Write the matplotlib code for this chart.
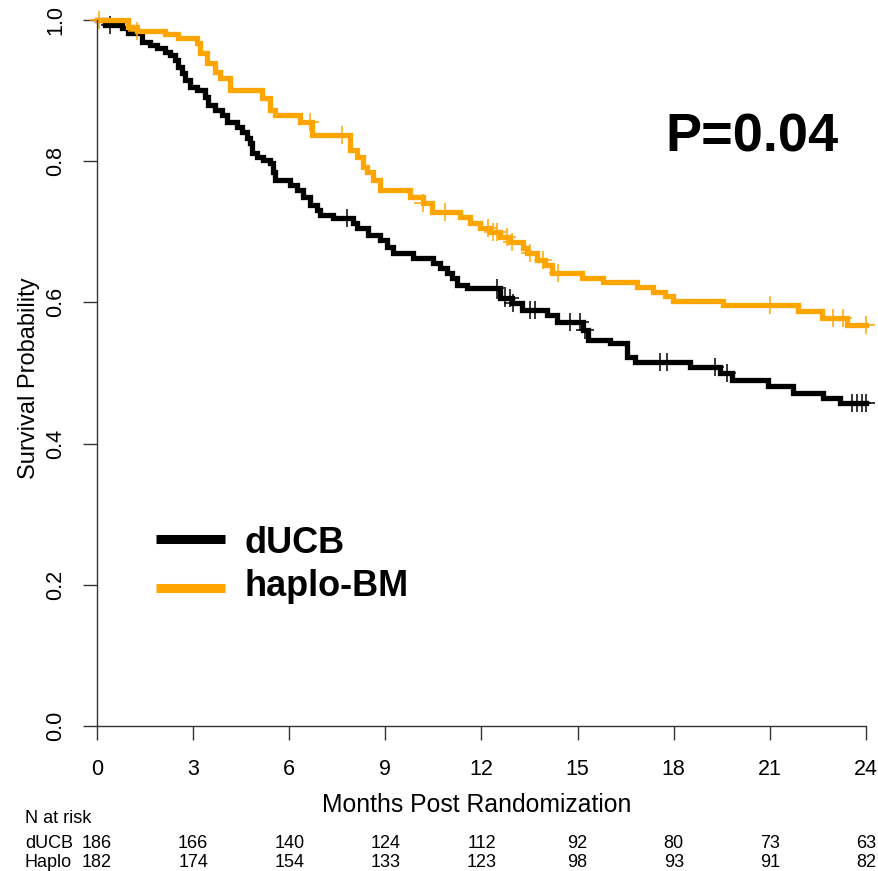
import numpy as np
import matplotlib
matplotlib.use("Agg")
import matplotlib.pyplot as plt

plt.rcParams["font.family"] = ["Liberation Sans", "DejaVu Sans"]

# ─── Data ───────────────────────────────────────────────────────────────────
ducb_t = [0, 0.25, 0.78, 0.97, 1.40, 1.65, 1.87, 2.12, 2.28, 2.43, 2.53, 2.65,
          2.75, 2.90, 3.12, 3.37, 3.46, 3.68, 3.90, 4.06, 4.37, 4.53, 4.68,
          4.78, 4.84, 4.99, 5.18, 5.40, 5.49, 5.56, 6.02, 6.24, 6.43, 6.65,
          6.87, 6.96, 7.37, 7.99, 8.11, 8.46, 8.83, 9.05, 9.24, 9.86, 10.49,
          10.71, 10.92, 11.08, 11.24, 11.55, 12.58, 12.95, 13.26, 14.04, 14.36,
          15.17, 15.32, 16.01, 16.54, 16.79, 18.51, 19.44, 19.82, 20.94, 21.72,
          22.66, 23.19]
ducb_s = [1.0, 0.993, 0.989, 0.982, 0.969, 0.965, 0.960, 0.955, 0.950, 0.943,
          0.933, 0.925, 0.915, 0.905, 0.901, 0.891, 0.880, 0.873, 0.865, 0.856,
          0.848, 0.841, 0.833, 0.826, 0.812, 0.806, 0.801, 0.797, 0.785, 0.773,
          0.766, 0.759, 0.749, 0.738, 0.731, 0.724, 0.720, 0.712, 0.705, 0.695,
          0.688, 0.678, 0.670, 0.663, 0.656, 0.649, 0.642, 0.635, 0.625, 0.620,
          0.606, 0.599, 0.589, 0.582, 0.572, 0.561, 0.547, 0.542, 0.523, 0.516,
          0.509, 0.500, 0.490, 0.481, 0.471, 0.465, 0.457]
ducb_cens = [0.41, 7.80, 12.48, 12.73, 12.89, 12.98, 13.51, 13.67, 14.76,
             15.07, 15.23, 17.57, 17.79, 19.29, 19.66, 23.56, 23.72, 23.88, 24.0]

haplo_t = [0, 0.97, 1.25, 2.12, 2.53, 3.12, 3.21, 3.43, 3.68, 3.84, 4.15, 5.15,
           5.40, 5.56, 6.34, 6.71, 7.90, 8.11, 8.30, 8.43, 8.61, 8.83, 9.77,
           10.17, 10.46, 11.33, 11.64, 11.95, 12.27, 12.58, 12.89, 13.30, 13.42,
           13.73, 13.98, 14.20, 15.14, 15.79, 16.85, 17.35, 17.73, 17.98, 19.54,
           21.88, 22.63, 23.41]
haplo_s = [1.0, 0.990, 0.984, 0.980, 0.975, 0.967, 0.953, 0.939, 0.926, 0.918,
           0.901, 0.890, 0.873, 0.865, 0.856, 0.837, 0.816, 0.806, 0.792, 0.785,
           0.773, 0.759, 0.749, 0.741, 0.728, 0.721, 0.712, 0.705, 0.700, 0.693,
           0.686, 0.677, 0.670, 0.660, 0.653, 0.642, 0.635, 0.629, 0.622, 0.615,
           0.609, 0.602, 0.596, 0.588, 0.578, 0.568]
haplo_cens = [0.05, 1.25, 6.65, 7.65, 10.17, 10.86, 12.2, 12.36, 12.48, 12.8,
              12.95, 13.51, 13.92, 14.39, 21.0, 22.97, 23.28, 24.0]

months = [0, 3, 6, 9, 12, 15, 18, 21, 24]
risk_ducb = [186, 166, 140, 124, 112, 92, 80, 73, 63]
risk_haplo = [182, 174, 154, 133, 123, 98, 93, 91, 82]

BLACK = "black"
ORANGE = "#FFA500"

W, H = 879, 871
fig = plt.figure(figsize=(W / 100, H / 100), dpi=100)
ax = fig.add_axes([97 / W, 1 - 726 / H, (866 - 97) / W, (726 - 20) / H])


def step_value(t_arr, s_arr, t):
    i = np.searchsorted(t_arr, t, side="right") - 1
    return np.asarray(s_arr)[i]


for t_arr, s_arr, cens, col in [(ducb_t, ducb_s, ducb_cens, BLACK),
                                (haplo_t, haplo_s, haplo_cens, ORANGE)]:
    tt = list(t_arr) + [24]
    ss = list(s_arr) + [s_arr[-1]]
    ax.step(tt, ss, where="post", color=col, lw=3.8, clip_on=False,
            solid_joinstyle="miter")
    cy = step_value(t_arr, s_arr, np.array(cens))
    ax.plot(cens, cy, ls="none", marker="+", ms=13, mew=1.1, color=col,
            clip_on=False)

ax.set_xlim(0, 24)
ax.set_ylim(0, 1)
for s in ["top", "right"]:
    ax.spines[s].set_visible(False)
for s in ["left", "bottom"]:
    ax.spines[s].set_color("#333333")
    ax.spines[s].set_linewidth(1.0)

ax.set_xticks(months)
ax.set_yticks([0, 0.2, 0.4, 0.6, 0.8, 1.0])
ax.set_yticklabels(["0.0", "0.2", "0.4", "0.6", "0.8", "1.0"], rotation=90,
                   va="center")
ax.tick_params(axis="both", length=10, width=1.0, color="#333333",
               labelsize=15.5)
ax.tick_params(axis="x", pad=14)
ax.tick_params(axis="y", pad=12)

fig.text(322 / W, 1 - 805 / H, "Months Post Randomization", fontsize=17.8,
         ha="left", va="center")
fig.text(29 / W, 1 - 378 / H, "Survival Probability", fontsize=17,
         rotation=90, ha="center", va="center")

# legend drawn by hand in data units
ax.plot([1.85, 4.0], [0.265, 0.265], color=BLACK, lw=6.5, solid_capstyle="butt")
ax.plot([1.85, 4.0], [0.195, 0.195], color=ORANGE, lw=6.5,
        solid_capstyle="butt")
ax.text(4.6, 0.258, "dUCB", fontsize=26, fontweight="bold", va="center")
ax.text(4.6, 0.197, "haplo-BM", fontsize=26, fontweight="bold", va="center")

ax.text(17.75, 0.833, "P=0.04", fontsize=39, fontweight="bold", va="center")

# risk table
fig.text(25 / W, 1 - 818 / H, "N at risk", fontsize=13, va="center")
fig.text(25 / W, 1 - 843 / H, "dUCB", fontsize=13, va="center")
fig.text(25 / W, 1 - 862 / H, "Haplo", fontsize=13, va="center")
for m, a, b in zip(months, risk_ducb, risk_haplo):
    xf = (97 + (866 - 97) * m / 24) / W
    fig.text(xf, 1 - 843 / H, str(a), fontsize=13, ha="center", va="center")
    fig.text(xf, 1 - 862 / H, str(b), fontsize=13, ha="center", va="center")

fig.savefig("out.png", dpi=100)
